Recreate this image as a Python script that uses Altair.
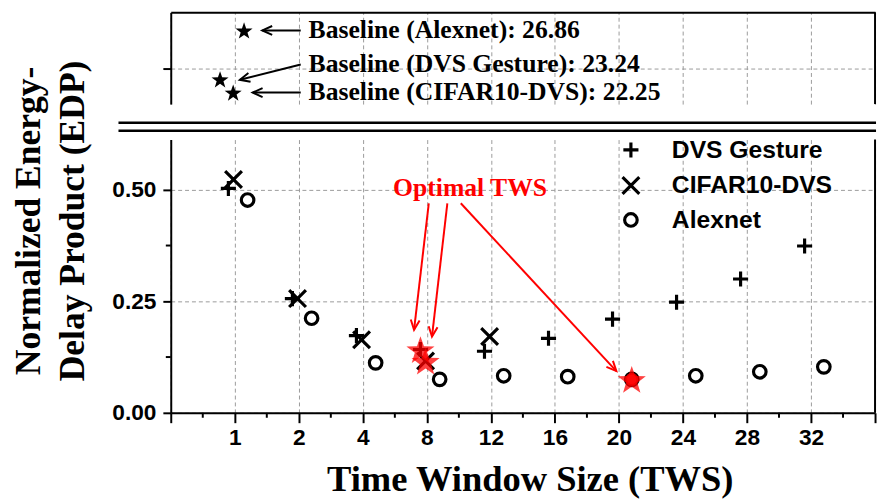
import math
import altair as alt
import pandas as pd

# ---------------- data ----------------
TWS = [1, 2, 4, 8, 12, 16, 20, 24, 28, 32]
SERIES = ["DVS Gesture", "CIFAR10-DVS", "Alexnet"]
DVS_GESTURE = [0.503, 0.256, 0.173, 0.142, 0.138, 0.167, 0.210, 0.248, 0.300, 0.374]
CIFAR10_DVS = [0.523, 0.256, 0.164, 0.116, 0.171]
ALEXNET = [0.477, 0.212, 0.112, 0.075, 0.083, 0.081, 0.075, 0.083, 0.092, 0.103]
BASELINE_NAMES = ["Alexnet", "DVS Gesture", "CIFAR10-DVS"]
BASELINE_EDP = [26.86, 23.24, 22.25]
OPTIMAL_TWS = {"DVS Gesture": 8, "CIFAR10-DVS": 8, "Alexnet": 20}

# ---------------- style / layout ----------------
SANS = "Liberation Sans"
SERIF = "Liberation Serif"
W, HT, HB = 714, 93, 277
XDOM = [0, 11]
YB = [0, 0.6125]
YT = [21.4, 28.2]
OFFSET = {"DVS Gesture": -0.1, "CIFAR10-DVS": -0.02, "Alexnet": 0.2}
BASE_X = [1.145, 0.77, 0.975]          # horizontal placement of baseline stars
BASE_ARROW_TAIL = [2.03, 2.03, 2.03]
BASE_ARROW_TAIL_Y = [26.86, 24.33, 22.25]
BASE_ARROW_TIP = [1.43, 1.08, 1.28]
BASE_ARROW_TIP_Y = [26.86, 23.2, 22.25]
OPT_TEXT = (4.675, 0.487)
OPT_TAIL = [(4.03, 0.4697), (4.32, 0.4697), (4.53, 0.4697)]
OPT_TIP = [(3.80, 0.186), (4.08, 0.171), (6.96, 0.0936)]

PLUS = "M-0.9,0L0.9,0M0,-0.9L0,0.9"
XMARK = "M-1,-1L1,1M-1,1L1,-1"
RING = "M0.75,0A0.75,0.75 0 1,1 -0.75,0A0.75,0.75 0 1,1 0.75,0Z"
CHEV = "M-1,-0.45L0,0L-1,0.45"
pts_star = []
for k in range(10):
    a = math.radians(-90 + 36 * k)
    r = 1.0 if k % 2 == 0 else 0.40
    pts_star.append(f"{r*math.cos(a):.4f},{r*math.sin(a)+0.1:.4f}")
STAR = "M" + "L".join(pts_star) + "Z"


def angle(x0, y0, x1, y1, ydom, h):
    dx = (x1 - x0) * W / (XDOM[1] - XDOM[0])
    dy = -(y1 - y0) * h / (ydom[1] - ydom[0])
    return math.degrees(math.atan2(dy, dx)) % 360


rows = []
for s, vals in zip(SERIES, [DVS_GESTURE, CIFAR10_DVS, ALEXNET]):
    for i, v in enumerate(vals):
        rows.append(dict(series=s, tws=TWS[i], idx=i + 1 + OFFSET[s], val=v))
df = pd.DataFrame(rows)
df_opt = pd.concat([df[(df.series == s) & (df.tws == t)] for s, t in OPTIMAL_TWS.items()])
df_opt_alex = df_opt[df_opt.series == "Alexnet"]

xs = alt.Scale(domain=XDOM, nice=False, zero=False)
ysb = alt.Scale(domain=YB, nice=False, zero=False)
yst = alt.Scale(domain=YT, nice=False, zero=False)

lab_arr = "[" + ",".join(f"'{t}'" for t in TWS) + "]"
x_axis_b = alt.Axis(
    values=list(range(12)),
    labelExpr=f"datum.value >= 1 && datum.value <= {len(TWS)} ? {lab_arr}[datum.value - 1] : ''",
    tickSize=10, labelPadding=4, labelFont=SANS, labelFontSize=23, labelFontWeight="bold",
    labelFlush=False, labelOverlap=False, grid=True,
    title="Time Window Size (TWS)", titleFont=SERIF, titleFontSize=37, titleFontWeight="bold",
    titleX=364, titleY=79, titleBaseline="alphabetic", titleAlign="center",
)
y_axis_b = alt.Axis(
    values=[0, 0.25, 0.5], format=".2f", tickSize=8, labelPadding=7,
    labelFont=SANS, labelFontSize=23, labelFontWeight="bold", grid=True,
    title=["Normalized Energy-", "Delay Product (EDP)"], titleFont=SERIF, titleFontSize=36,
    titleFontWeight="bold", titleAngle=270, titleX=-133, titleY=82, titleAlign="center",
    titleBaseline="alphabetic", titleLineHeight=45,
)
x_axis_t = alt.Axis(orient="top", values=list(range(12)), labels=False, ticks=False,
                    domain=True, grid=True, title=None)
y_axis_t = alt.Axis(values=[24], labels=False, tickSize=8, grid=True, title=None)


def XB(f):
    return alt.X(f, scale=xs, axis=x_axis_b)


def YBf(f):
    return alt.Y(f, scale=ysb, axis=y_axis_b)


def XT(f):
    return alt.X(f, scale=xs, axis=x_axis_t)


def YTf(f):
    return alt.Y(f, scale=yst, axis=y_axis_t)


# ---------------- top panel ----------------
df_base = pd.DataFrame({
    "name": BASELINE_NAMES, "edp": BASELINE_EDP, "idx": BASE_X,
    "label": [f"Baseline ({n}): {v:.2f}" for n, v in zip(BASELINE_NAMES, BASELINE_EDP)],
    "x0": BASE_ARROW_TAIL, "y0": BASE_ARROW_TAIL_Y, "x1": BASE_ARROW_TIP, "y1": BASE_ARROW_TIP_Y,
})
df_base["ang"] = [angle(a, b, c, d, YT, HT) for a, b, c, d in
                  zip(df_base.x0, df_base.y0, df_base.x1, df_base.y1)]

t_stars = alt.Chart(df_base).mark_point(shape=STAR, filled=True, color="black", size=330,
                                         opacity=1, strokeWidth=0).encode(
    x=XT("idx:Q"), y=YTf("edp:Q"))
t_lines = alt.Chart(df_base).mark_rule(color="black", strokeWidth=2).encode(
    x=XT("x0:Q"), y=YTf("y0:Q"), x2="x1:Q", y2="y1:Q")
t_heads = alt.Chart(df_base).mark_point(shape=CHEV, filled=False, color="black", size=400,
                                         strokeWidth=2, opacity=1).encode(
    x=XT("x1:Q"), y=YTf("y1:Q"), angle=alt.Angle("ang:Q", scale=None))
t_text = alt.Chart(df_base).mark_text(font=SERIF, fontSize=26, fontWeight="bold", color="black",
                                       align="left", baseline="middle", dx=8).encode(
    x=XT("x0:Q"), y=YTf("y0:Q"), text="label:N")
t_right = alt.Chart(pd.DataFrame({"a": [0]})).mark_rule(color="black", strokeWidth=2).encode(
    x=alt.value(W), y=alt.value(0), y2=alt.value(HT))

top = alt.layer(t_stars, t_lines, t_heads, t_text, t_right).properties(width=W, height=HT)

# ---------------- bottom panel ----------------
points = alt.Chart(df).mark_point(filled=False, strokeWidth=3.2, size=289, color="black",
                                  opacity=1).encode(
    x=XB("idx:Q"), y=YBf("val:Q"),
    shape=alt.Shape("series:N", scale=alt.Scale(domain=SERIES, range=[PLUS, XMARK, RING]),
                    legend=alt.Legend(title=None, orient="none", legendX=454, legendY=127,
                                      labelFont=SANS, labelFontSize=25, labelFontWeight="bold",
                                      labelColor="black", labelLimit=400, symbolSize=289,
                                      symbolStrokeWidth=3.2,
                                      symbolStrokeColor="black", symbolFillColor="transparent",
                                      labelOffset=29, rowPadding=6, padding=0)),
)
red_stars = alt.Chart(df_opt).mark_point(shape=STAR, filled=True, color="red", size=900,
                                         opacity=0.75, strokeWidth=0).encode(
    x=XB("idx:Q"), y=YBf("val:Q"))
red_dot = alt.Chart(df_opt_alex).mark_point(shape="circle", filled=True, color="red", size=170,
                                            opacity=0.85, strokeWidth=0).encode(
    x=XB("idx:Q"), y=YBf("val:Q"))

df_arr = pd.DataFrame({
    "x0": [a for a, _ in OPT_TAIL], "y0": [b for _, b in OPT_TAIL],
    "x1": [a for a, _ in OPT_TIP], "y1": [b for _, b in OPT_TIP],
})
df_arr["ang"] = [angle(a, b, c, d, YB, HB) for a, b, c, d in
                 zip(df_arr.x0, df_arr.y0, df_arr.x1, df_arr.y1)]
r_lines = alt.Chart(df_arr).mark_rule(color="red", strokeWidth=2).encode(
    x=XB("x0:Q"), y=YBf("y0:Q"), x2="x1:Q", y2="y1:Q")
r_heads = alt.Chart(df_arr).mark_point(shape=CHEV, filled=False, color="red", size=400,
                                       strokeWidth=2, opacity=1).encode(
    x=XB("x1:Q"), y=YBf("y1:Q"), angle=alt.Angle("ang:Q", scale=None))
r_text = alt.Chart(pd.DataFrame({"x": [OPT_TEXT[0]], "y": [OPT_TEXT[1]], "t": ["Optimal TWS"]})).mark_text(
    font=SERIF, fontSize=26, fontWeight="bold", color="red", align="center",
    baseline="alphabetic").encode(x=XB("x:Q"), y=YBf("y:Q"), text="t:N")

minor_x = alt.Chart(pd.DataFrame({"m": [i + 0.5 for i in range(11)]})).mark_rule(
    color="black", strokeWidth=2).encode(x=XB("m:Q"), y=alt.value(HB), y2=alt.value(HB + 5))
minor_y = alt.Chart(pd.DataFrame({"m": [0.125, 0.375]})).mark_rule(
    color="black", strokeWidth=2).encode(y=YBf("m:Q"), x=alt.value(-5), x2=alt.value(0))
b_right = alt.Chart(pd.DataFrame({"a": [0]})).mark_rule(color="black", strokeWidth=2).encode(
    x=alt.value(W), y=alt.value(0), y2=alt.value(HB))
brk1 = alt.Chart(pd.DataFrame({"a": [0]})).mark_rule(color="black", strokeWidth=2.5).encode(
    x=alt.value(-53), x2=alt.value(W + 1), y=alt.value(-17))
brk2 = alt.Chart(pd.DataFrame({"a": [0]})).mark_rule(color="black", strokeWidth=2.5).encode(
    x=alt.value(-53), x2=alt.value(W + 1), y=alt.value(-9))

bottom = alt.layer(points, red_stars, red_dot, r_lines, r_heads, r_text,
                   minor_x, minor_y, b_right, brk1, brk2).properties(width=W, height=HB)

chart = alt.vconcat(top, bottom, spacing=36, bounds="flush").properties(
    padding={"left": 2, "top": 0, "right": 0, "bottom": 0}
).configure_view(stroke=None).configure_axis(
    domainColor="black", domainWidth=2, tickColor="black", tickWidth=2,
    gridColor="#9a9a9a", gridDash=[4, 3], gridWidth=1, labelColor="black", titleColor="black",
)

chart.save("out.html", embed_options={"renderer": "svg", "actions": False})
